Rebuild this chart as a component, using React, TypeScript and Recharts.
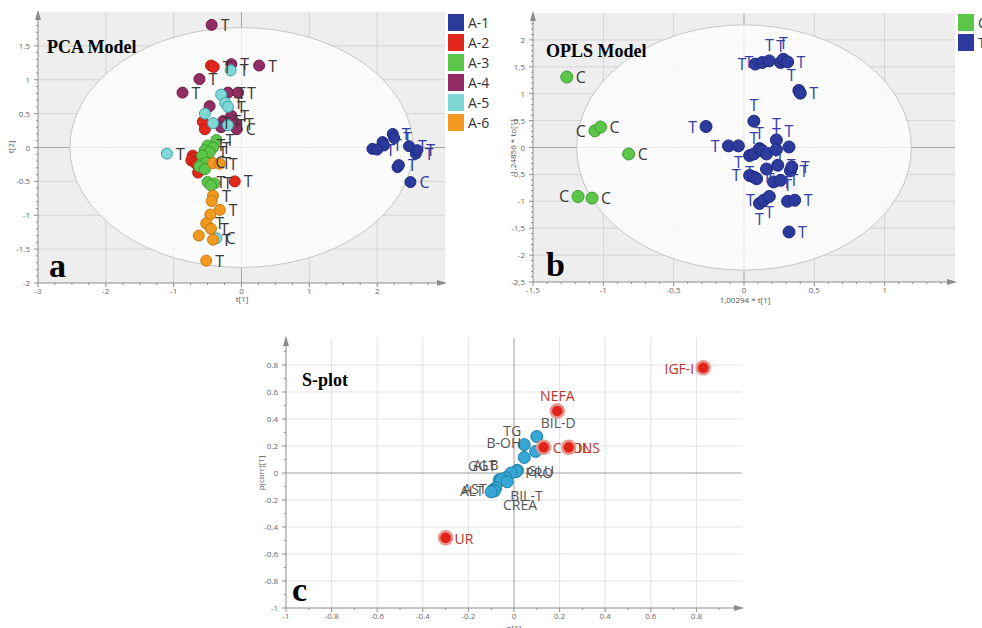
import React from 'react'
import {
  ScatterChart,
  Scatter,
  XAxis,
  YAxis,
  CartesianGrid,
  ReferenceLine,
  ReferenceDot,
} from 'recharts'

type Pt = { x: number; y: number; label: string }
type Side = 'right' | 'left' | 'top' | 'bottom' | 'topleft' | 'topright' | 'bottomright' | 'below'

// ---- a: PCA score plot, six groups ----
const pcaGroups = ['A-1', 'A-2', 'A-3', 'A-4', 'A-5', 'A-6']
const pcaA1: Pt[] = [
  { x: 2.23, y: 0.2, label: 'T' }, { x: 2.25, y: 0.14, label: 'T' }, { x: 2.08, y: 0.08, label: '' },
  { x: 2.1, y: 0.03, label: 'T' }, { x: 1.93, y: -0.02, label: '' }, { x: 2.0, y: -0.03, label: 'T' },
  { x: 2.47, y: 0.02, label: 'T' }, { x: 2.57, y: -0.09, label: 'T' }, { x: 2.59, y: -0.04, label: 'T' },
  { x: 2.3, y: -0.29, label: '' }, { x: 2.32, y: -0.26, label: 'T' }, { x: 2.49, y: -0.51, label: 'C' },
]
const pcaA2: Pt[] = [
  { x: -0.45, y: 1.21, label: '' }, { x: -0.41, y: 1.19, label: 'T' }, { x: -0.57, y: 0.38, label: '' },
  { x: -0.54, y: 0.27, label: '' }, { x: -0.72, y: -0.12, label: '' }, { x: -0.7, y: -0.15, label: '' },
  { x: -0.74, y: -0.19, label: '' }, { x: -0.69, y: -0.22, label: '' }, { x: -0.66, y: -0.25, label: '' },
  { x: -0.64, y: -0.37, label: '' }, { x: -0.1, y: -0.5, label: 'T' },
]
const pcaA3: Pt[] = [
  { x: -0.37, y: 0.11, label: 'T' }, { x: -0.5, y: 0.03, label: 'T' }, { x: -0.42, y: 0.0, label: 'T' },
  { x: -0.54, y: -0.04, label: '' }, { x: -0.47, y: -0.07, label: 'T' }, { x: -0.58, y: -0.12, label: '' },
  { x: -0.59, y: -0.24, label: '' }, { x: -0.52, y: -0.22, label: 'C' }, { x: -0.62, y: -0.28, label: '' },
  { x: -0.54, y: -0.32, label: '' }, { x: -0.5, y: -0.51, label: 'T' }, { x: -0.4, y: -0.53, label: 'T' },
  { x: -0.45, y: -0.56, label: '' },
]
const pcaA4: Pt[] = [
  { x: -0.44, y: 1.81, label: 'T' }, { x: 0.26, y: 1.21, label: 'T' }, { x: -0.15, y: 1.23, label: 'T' },
  { x: -0.62, y: 1.01, label: 'T' }, { x: -0.87, y: 0.81, label: 'T' }, { x: -0.47, y: 0.61, label: '' },
  { x: -0.2, y: 0.81, label: 'T' }, { x: -0.05, y: 0.81, label: 'T' }, { x: -0.27, y: 0.39, label: 'T' },
  { x: -0.15, y: 0.47, label: 'T' }, { x: -0.08, y: 0.35, label: 'T' }, { x: -0.3, y: 0.3, label: '' },
  { x: -0.07, y: 0.27, label: 'C' },
]
const pcaA5: Pt[] = [
  { x: -0.16, y: 1.14, label: 'T' }, { x: -0.3, y: 0.78, label: '' }, { x: -0.24, y: 0.66, label: 'T' },
  { x: -0.2, y: 0.6, label: 'T' }, { x: -0.54, y: 0.5, label: '' }, { x: -0.42, y: 0.36, label: 'T' },
  { x: -0.2, y: 0.33, label: 'T' }, { x: -1.1, y: -0.09, label: 'T' }, { x: -0.37, y: -1.34, label: 'C' },
]
const pcaA6: Pt[] = [
  { x: -0.42, y: -0.23, label: 'T' }, { x: -0.32, y: -0.24, label: 'T' }, { x: -0.42, y: -0.71, label: 'T' },
  { x: -0.44, y: -0.79, label: '' }, { x: -0.32, y: -0.92, label: 'T' }, { x: -0.46, y: -0.99, label: '' },
  { x: -0.52, y: -1.12, label: 'T' }, { x: -0.45, y: -1.2, label: 'T' }, { x: -0.63, y: -1.3, label: '' },
  { x: -0.42, y: -1.36, label: 'T' }, { x: -0.52, y: -1.67, label: 'T' },
]
const pcaXMajor = [-3, -2, -1, 0, 1, 2]
const pcaYMajor = [-2, -1.5, -1, -0.5, 0, 0.5, 1, 1.5]

// ---- b: OPLS score plot, control vs treated ----
const oplsClasses = ['C', 'T']
const oplsC: Pt[] = [
  { x: -1.26, y: 1.31, label: 'C' }, { x: -1.06, y: 0.31, label: 'C' }, { x: -1.02, y: 0.38, label: 'C' },
  { x: -0.82, y: -0.12, label: 'C' }, { x: -1.18, y: -0.91, label: 'C' }, { x: -1.08, y: -0.94, label: 'C' },
]
const oplsT: Pt[] = [
  { x: 0.08, y: 1.55, label: 'T' }, { x: 0.13, y: 1.58, label: 'T' }, { x: 0.18, y: 1.61, label: 'T' },
  { x: 0.26, y: 1.58, label: 'T' }, { x: 0.28, y: 1.64, label: 'T' }, { x: 0.31, y: 1.59, label: 'T' },
  { x: 0.39, y: 1.06, label: 'T' }, { x: 0.4, y: 1.01, label: 'T' }, { x: 0.07, y: 0.49, label: 'T' },
  { x: -0.27, y: 0.39, label: 'T' }, { x: -0.11, y: 0.03, label: 'T' }, { x: -0.04, y: 0.03, label: 'T' },
  { x: 0.04, y: -0.15, label: 'T' }, { x: 0.07, y: -0.12, label: 'T' }, { x: 0.11, y: -0.02, label: 'T' },
  { x: 0.13, y: -0.06, label: 'T' }, { x: 0.16, y: -0.12, label: 'T' }, { x: 0.23, y: 0.14, label: 'T' },
  { x: 0.23, y: -0.04, label: 'T' }, { x: 0.32, y: 0.01, label: 'T' }, { x: 0.04, y: -0.52, label: 'T' },
  { x: 0.07, y: -0.55, label: 'T' }, { x: 0.09, y: -0.58, label: 'T' }, { x: 0.16, y: -0.4, label: 'T' },
  { x: 0.24, y: -0.33, label: 'T' }, { x: 0.21, y: -0.64, label: 'T' }, { x: 0.26, y: -0.61, label: 'T' },
  { x: 0.33, y: -0.43, label: 'T' }, { x: 0.34, y: -0.36, label: 'T' }, { x: 0.11, y: -1.04, label: 'T' },
  { x: 0.14, y: -0.98, label: 'T' }, { x: 0.18, y: -0.91, label: 'T' }, { x: 0.31, y: -1.0, label: 'T' },
  { x: 0.36, y: -0.98, label: 'T' }, { x: 0.32, y: -1.57, label: 'T' },
]
// label placement (layout only)
const oplsCSides: Side[] = ['right', 'left', 'right', 'right', 'left', 'right']
const oplsTSides: Side[] = [
  'left', 'left', 'top', 'top', 'top', 'right', 'topleft', 'right', 'top',
  'left', 'left', 'bottom', 'bottom', 'top', 'top', 'right', 'right', 'top',
  'top', 'top', 'left', 'right', 'right', 'top', 'right', 'right', 'right',
  'right', 'right', 'bottom', 'left', 'bottom', 'top', 'right', 'right',
]
const oplsXMajor = [-1.5, -1, -0.5, 0, 0.5, 1]
const oplsYMajor = [-2.5, -2, -1.5, -1, -0.5, 0, 0.5, 1, 1.5, 2]

// ---- c: S-plot, p[1] vs p(corr)[1] ----
const sSignificant: Pt[] = [
  { x: 0.83, y: 0.78, label: 'IGF-I' }, { x: 0.19, y: 0.46, label: 'NEFA' },
  { x: 0.13, y: 0.19, label: 'CHOL' }, { x: 0.24, y: 0.19, label: 'INS' },
  { x: -0.3, y: -0.48, label: 'UR' },
]
const sOther: Pt[] = [
  { x: 0.1, y: 0.27, label: 'BIL-D' }, { x: 0.045, y: 0.21, label: 'TG' },
  { x: 0.095, y: 0.16, label: '' }, { x: 0.045, y: 0.115, label: 'B-OH' },
  { x: 0.015, y: 0.02, label: 'GLU' }, { x: 0.01, y: 0.01, label: 'PRO' },
  { x: -0.013, y: 0.0, label: '' }, { x: -0.035, y: -0.035, label: 'CREA' },
  { x: -0.065, y: -0.05, label: 'GGT' }, { x: -0.055, y: -0.045, label: 'ALB' },
  { x: -0.03, y: -0.065, label: 'BIL-T' }, { x: -0.08, y: -0.11, label: 'AST' },
  { x: -0.093, y: -0.126, label: 'ALT' }, { x: -0.086, y: -0.133, label: '' },
  { x: -0.1, y: -0.14, label: '' },
]
const sPlace: Record<string, Side> = {
  'IGF-I': 'left', NEFA: 'top', 'BIL-D': 'topright', TG: 'topleft', 'B-OH': 'topleft',
  GGT: 'topleft', ALB: 'topleft', AST: 'left', ALT: 'left', 'BIL-T': 'bottomright', CREA: 'below',
}
const sMajor = [-1, -0.8, -0.6, -0.4, -0.2, 0, 0.2, 0.4, 0.6, 0.8]

const range = (a: number, b: number, s: number) => {
  const out: number[] = []
  for (let v = a; v <= b + 1e-9; v += s) out.push(Math.round(v * 1000) / 1000)
  return out
}

const AX = '#8c8c8c'
const TICK_FONT = 'Open Sans, sans-serif'

const isMajor = (majors: number[], v: number) => majors.some((m) => Math.abs(m - v) < 1e-6)

const xTick = (majors: number[], fmt: (v: number) => string) => (p: any) => {
  const v = p.payload.value
  const major = isMajor(majors, v)
  return (
    <g>
      <line x1={p.x} x2={p.x} y1={p.y} y2={p.y + (major ? 4 : 2)} stroke={AX} />
      {major && (
        <text x={p.x} y={p.y + 11} textAnchor="middle" fontSize={8} fill="#666" fontFamily={TICK_FONT}>
          {fmt(v)}
        </text>
      )}
    </g>
  )
}

const yTick = (majors: number[], fmt: (v: number) => string) => (p: any) => {
  const v = p.payload.value
  const major = isMajor(majors, v)
  return (
    <g>
      <line x1={p.x - (major ? 4 : 2)} x2={p.x} y1={p.y} y2={p.y} stroke={AX} />
      {major && (
        <text x={p.x - 8} y={p.y + 3} textAnchor="end" fontSize={8} fill="#666" fontFamily={TICK_FONT}>
          {fmt(v)}
        </text>
      )}
    </g>
  )
}

const dotFmt = (v: number) => String(v)
const commaFmt = (v: number) => String(v).replace('.', ',')

const place = (side: Side) => {
  switch (side) {
    case 'left': return { dx: -9, dy: 6, anchor: 'end' }
    case 'top': return { dx: 0, dy: -10, anchor: 'middle' }
    case 'bottom': return { dx: 0, dy: 22, anchor: 'middle' }
    case 'topleft': return { dx: -3, dy: -9, anchor: 'end' }
    case 'topright': return { dx: 4, dy: -9, anchor: 'start' }
    case 'bottomright': return { dx: 3, dy: 19, anchor: 'start' }
    case 'below': return { dx: -3, dy: 32, anchor: 'start' }
    default: return { dx: 9, dy: 6, anchor: 'start' }
  }
}

type DotStyle = { r: number; fill: string; stroke: string; sw?: number; text: string; font: number }

// draws the marker and/or its name
const marker = (st: DotStyle, withDot: boolean, withText: boolean) => (p: any) => {
  const d = p.payload || {}
  const pl = place((d.side as Side) || 'right')
  return (
    <g>
      {withDot && <circle cx={p.cx} cy={p.cy} r={st.r} fill={st.fill} stroke={st.stroke} strokeWidth={st.sw ?? 1} />}
      {withText && d.label ? (
        <text
          x={p.cx + pl.dx}
          y={p.cy + pl.dy}
          textAnchor={pl.anchor as any}
          fontSize={st.font}
          fill={st.text}
          fontFamily="Open Sans, sans-serif"
        >
          {d.label}
        </text>
      ) : null}
    </g>
  )
}

const arrowRight = (p: any) => <path d={`M${p.cx + 2},${p.cy} L${p.cx - 8},${p.cy - 3} L${p.cx - 8},${p.cy + 3} Z`} fill={AX} />
const arrowUp = (p: any) => <path d={`M${p.cx},${p.cy - 2} L${p.cx - 3},${p.cy + 8} L${p.cx + 3},${p.cy + 8} Z`} fill={AX} />

const ellipse = (rx: number, ry: number) => (p: any) => (
  <ellipse cx={p.cx} cy={p.cy} rx={rx} ry={ry} fill="#ffffff" fillOpacity={0.78} stroke="#c6c6c6" />
)

const pcaColors = ['#2c3a9c', '#e2281c', '#5cc64a', '#922c64', '#7fd7d6', '#f29a1f']
const pcaStrokes = ['#1e2a80', '#b81a12', '#3c9c30', '#6e1c48', '#3aa2aa', '#c87a10']
const pcaSeries = [pcaA1, pcaA2, pcaA3, pcaA4, pcaA5, pcaA6]
const pcaStyle = (i: number): DotStyle => ({
  r: 5.5, fill: pcaColors[i], stroke: pcaStrokes[i], text: i === 0 ? '#2c3a9c' : '#3a3a3a', font: 16,
})
const oplsCStyle: DotStyle = { r: 6, fill: '#5cc64a', stroke: '#3c9c30', text: '#3a3a3a', font: 16 }
const oplsTStyle: DotStyle = { r: 6, fill: '#2c3a9c', stroke: '#1e2a80', text: '#3440a8', font: 16 }

// plot geometry (px per unit) derived from chart size
const A = { w: 450, h: 312, m: { top: 12, right: 5, bottom: 7, left: 0 }, yw: 38, xh: 22 }
const B = { w: 470, h: 312, m: { top: 13, right: 10, bottom: 8, left: 0 }, yw: 38, xh: 22 }
const C = { w: 502, h: 308, m: { top: 18, right: 8, bottom: 0, left: 0 }, yw: 38, xh: 20 }
const pxX = (g: typeof A, span: number) => (g.w - g.m.left - g.m.right - g.yw) / span
const pxY = (g: typeof A, span: number) => (g.h - g.m.top - g.m.bottom - g.xh) / span

const PcaChart = () => (
  <ScatterChart width={A.w} height={A.h} margin={A.m}>
    <CartesianGrid fill="#eeeeee" stroke="#d4d4d4" verticalValues={[-2, -1, 1, 2]} horizontalValues={[-1.5, -1, -0.5, 0.5, 1, 1.5]} />
    <XAxis type="number" dataKey="x" domain={[-3, 3]} ticks={range(-3, 2.75, 0.25)} interval={0} height={A.xh}
      tickSize={0} tickMargin={0} tickLine={false} axisLine={{ stroke: AX }} tick={xTick(pcaXMajor, dotFmt)} />
    <YAxis type="number" dataKey="y" domain={[-2, 2]} ticks={range(-2, 1.9, 0.1)} interval={0} width={A.yw}
      tickSize={0} tickMargin={0} tickLine={false} axisLine={{ stroke: AX }} tick={yTick(pcaYMajor, dotFmt)} />
    <ReferenceDot x={0} y={0} ifOverflow="visible" shape={ellipse(2.53 * pxX(A, 6), 1.77 * pxY(A, 4))} />
    <ReferenceLine x={0} stroke="#a6a6a6" />
    <ReferenceLine y={0} stroke="#a6a6a6" />
    <ReferenceDot x={3} y={-2} ifOverflow="visible" shape={arrowRight} />
    <ReferenceDot x={-3} y={2} ifOverflow="visible" shape={arrowUp} />
    {pcaSeries.map((data, i) => (
      <Scatter key={pcaGroups[i]} name={pcaGroups[i]} data={data} fill={pcaColors[i]}
        isAnimationActive={false} shape={marker(pcaStyle(i), true, false)} />
    ))}
    {pcaSeries.map((data, i) => (
      <Scatter key={pcaGroups[i] + '-lab'} data={data} isAnimationActive={false}
        shape={marker(pcaStyle(i), false, true)} />
    ))}
  </ScatterChart>
)

const OplsChart = () => {
  const cData = oplsC.map((d, i) => ({ ...d, side: oplsCSides[i] }))
  const tData = oplsT.map((d, i) => ({ ...d, side: oplsTSides[i] }))
  return (
    <ScatterChart width={B.w} height={B.h} margin={B.m}>
      <CartesianGrid fill="#eeeeee" stroke="#d4d4d4" verticalValues={[-1, -0.5, 0.5, 1]} horizontalValues={[-2, -1.5, -1, -0.5, 0.5, 1, 1.5, 2]} />
      <XAxis type="number" dataKey="x" domain={[-1.5, 1.5]} ticks={range(-1.5, 1.4, 0.1)} interval={0} height={B.xh}
        tickSize={0} tickMargin={0} tickLine={false} axisLine={{ stroke: AX }} tick={xTick(oplsXMajor, commaFmt)} />
      <YAxis type="number" dataKey="y" domain={[-2.5, 2.5]} ticks={range(-2.5, 2.4, 0.1)} interval={0} width={B.yw}
        tickSize={0} tickMargin={0} tickLine={false} axisLine={{ stroke: AX }} tick={yTick(oplsYMajor, commaFmt)} />
      <ReferenceDot x={0} y={0} ifOverflow="visible" shape={ellipse(1.19 * pxX(B, 3), 2.28 * pxY(B, 5))} />
      <ReferenceLine x={0} stroke="#a6a6a6" />
      <ReferenceLine y={0} stroke="#a6a6a6" />
      <ReferenceDot x={1.5} y={-2.5} ifOverflow="visible" shape={arrowRight} />
      <ReferenceDot x={-1.5} y={2.5} ifOverflow="visible" shape={arrowUp} />
      <Scatter name={oplsClasses[0]} data={cData} fill="#5cc64a" isAnimationActive={false} shape={marker(oplsCStyle, true, false)} />
      <Scatter name={oplsClasses[1]} data={tData} fill="#2c3a9c" isAnimationActive={false} shape={marker(oplsTStyle, true, false)} />
      <Scatter data={cData} isAnimationActive={false} shape={marker(oplsCStyle, false, true)} />
      <Scatter data={tData} isAnimationActive={false} shape={marker(oplsTStyle, false, true)} />
    </ScatterChart>
  )
}

const SPlotChart = () => (
  <ScatterChart width={C.w} height={C.h} margin={C.m}>
    <CartesianGrid fill="#ffffff" stroke="#e2e2e2" verticalValues={[-0.8, -0.6, -0.4, -0.2, 0.2, 0.4, 0.6, 0.8]}
      horizontalValues={[-0.8, -0.6, -0.4, -0.2, 0.2, 0.4, 0.6, 0.8]} />
    <XAxis type="number" dataKey="x" domain={[-1, 1]} ticks={range(-1, 0.9, 0.1)} interval={0} height={C.xh}
      tickSize={0} tickMargin={0} tickLine={false} axisLine={{ stroke: AX }} tick={xTick(sMajor, dotFmt)} />
    <YAxis type="number" dataKey="y" domain={[-1, 1]} ticks={range(-1, 0.9, 0.1)} interval={0} width={C.yw}
      tickSize={0} tickMargin={0} tickLine={false} axisLine={{ stroke: AX }} tick={yTick(sMajor, dotFmt)} />
    <ReferenceLine x={0} stroke="#a0a0a0" />
    <ReferenceLine y={0} stroke="#a0a0a0" />
    <ReferenceDot x={1} y={-1} ifOverflow="visible" shape={arrowRight} />
    <ReferenceDot x={-1} y={1} ifOverflow="visible" shape={arrowUp} />
    <Scatter
      name="other"
      data={sOther.map((d) => ({ ...d, side: sPlace[d.label] || 'right' }))}
      fill="#36a8d6"
      isAnimationActive={false}
      shape={marker({ r: 6, fill: '#36a8d6', stroke: '#1f7fa8', text: '#555555', font: 14 }, true, true)}
    />
    <Scatter
      name="significant"
      data={sSignificant.map((d) => ({ ...d, side: sPlace[d.label] || 'right' }))}
      fill="#e2231a"
      isAnimationActive={false}
      shape={marker({ r: 6.5, fill: '#e2231a', stroke: '#e8948c', sw: 2.5, text: '#b8332c', font: 14 }, true, true)}
    />
  </ScatterChart>
)

const serif = 'Liberation Serif, Times New Roman, serif'
const small = { fontSize: 8, fill: '#555', fontFamily: TICK_FONT }

const Overlay = () => (
  <svg width={982} height={628} style={{ position: 'absolute', left: 0, top: 0, pointerEvents: 'none' }}>
    <text x={47} y={53} fontFamily={serif} fontWeight="bold" fontSize={18}>PCA Model</text>
    <text x={49} y={277} fontFamily={serif} fontWeight="bold" fontSize={34}>a</text>
    <text x={546} y={57} fontFamily={serif} fontWeight="bold" fontSize={18}>OPLS Model</text>
    <text x={546} y={276} fontFamily={serif} fontWeight="bold" fontSize={34}>b</text>
    <text x={302} y={386} fontFamily={serif} fontWeight="bold" fontSize={18}>S-plot</text>
    <text x={292} y={601} fontFamily={serif} fontWeight="bold" fontSize={34}>c</text>

    <text x={242} y={302} textAnchor="middle" {...small}>t[1]</text>
    <text x={0} y={0} textAnchor="middle" transform="translate(14,147) rotate(-90)" {...small}>t[2]</text>
    <text x={745} y={303} textAnchor="middle" {...small}>1,00294 * t[1]</text>
    <text x={0} y={0} textAnchor="middle" transform="translate(516,147) rotate(-90)" {...small}>1,24856 * to[1]</text>
    <text x={514} y={631} textAnchor="middle" {...small}>p[1]</text>
    <text x={0} y={0} textAnchor="middle" transform="translate(264,473) rotate(-90)" {...small}>p(corr)[1]</text>

    {pcaGroups.map((g, i) => (
      <g key={g}>
        <rect x={448} y={14 + i * 20} width={16} height={17} fill={pcaColors[i]} />
        <text x={468} y={28 + i * 20} fontSize={14} fill="#333" fontFamily="Open Sans, sans-serif">{g}</text>
      </g>
    ))}
    {oplsClasses.map((c, i) => (
      <g key={c}>
        <rect x={958} y={14 + i * 20} width={16} height={17} fill={i === 0 ? '#5cc64a' : '#2c3a9c'} />
        <text x={978} y={28 + i * 20} fontSize={14} fill="#333" fontFamily="Open Sans, sans-serif">{c}</text>
      </g>
    ))}
  </svg>
)

export default function App() {
  return (
    <div style={{ position: 'absolute', left: 0, top: 0, width: 982, height: 628, overflow: 'hidden', background: '#fff' }}>
      <div style={{ position: 'absolute', left: 0, top: 0 }}>
        <PcaChart />
      </div>
      <div style={{ position: 'absolute', left: 495, top: 0 }}>
        <OplsChart />
      </div>
      <div style={{ position: 'absolute', left: 248, top: 320 }}>
        <SPlotChart />
      </div>
      <Overlay />
    </div>
  )
}
